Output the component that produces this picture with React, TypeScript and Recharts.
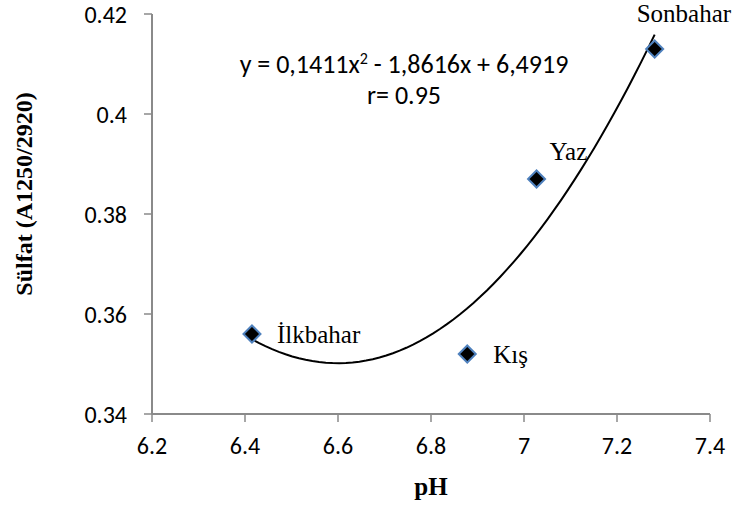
import React from "react";
import {
  ComposedChart,
  Scatter,
  XAxis,
  YAxis,
  Customized,
} from "recharts";

// pH vs Sülfat, one point per season
const SEASONS = ["İlkbahar", "Kış", "Yaz", "Sonbahar"];
const PH = [6.415, 6.878, 7.027, 7.281];
const SULFAT = [0.356, 0.352, 0.387, 0.413];

const X_TICKS = [6.2, 6.4, 6.6, 6.8, 7, 7.2, 7.4];
const Y_TICKS = [0.34, 0.36, 0.38, 0.4, 0.42];

const TREND_STEPS = 60;

const AXIS = "#8a8a8a";
const TICK_FONT = "Carlito, Lato, 'Open Sans', sans-serif";
const SERIF = "'Liberation Serif', 'Times New Roman', serif";

// where each season's name sits relative to its marker
const LABEL_OFFSET: Record<string, [number, number]> = {
  "İlkbahar": [25, 9],
  "Kış": [26, 9],
  "Yaz": [13, -19],
  "Sonbahar": [-18, -27],
};

const points = SEASONS.map((name, i) => ({ name, x: PH[i], y: SULFAT[i] }));

// least squares quadratic through the points (what the trendline is)
function fitQuadratic(xs: number[], ys: number[]) {
  const s = (f: (x: number, y: number) => number) =>
    xs.reduce((acc, x, i) => acc + f(x, ys[i]), 0);
  const m = [
    [s((x) => x ** 4), s((x) => x ** 3), s((x) => x ** 2)],
    [s((x) => x ** 3), s((x) => x ** 2), s((x) => x)],
    [s((x) => x ** 2), s((x) => x), xs.length],
  ];
  const r = [s((x, y) => x * x * y), s((x, y) => x * y), s((_, y) => y)];
  const det = (a: number[][]) =>
    a[0][0] * (a[1][1] * a[2][2] - a[1][2] * a[2][1]) -
    a[0][1] * (a[1][0] * a[2][2] - a[1][2] * a[2][0]) +
    a[0][2] * (a[1][0] * a[2][1] - a[1][1] * a[2][0]);
  const d = det(m);
  return [0, 1, 2].map((c) => det(m.map((row, i) => row.map((v, j) => (j === c ? r[i] : v)))) / d);
}

const [qa, qb, qc] = fitQuadratic(PH, SULFAT);
const xLo = Math.min(...PH);
const xHi = Math.max(...PH);
const trend = Array.from({ length: TREND_STEPS + 1 }, (_, i) => {
  const x = xLo + ((xHi - xLo) * i) / TREND_STEPS;
  return { x, y: qa * x * x + qb * x + qc };
});

function Diamond(props: any) {
  const { cx, cy, payload } = props;
  const s = 8.5;
  const [dx, dy] = LABEL_OFFSET[payload.name] ?? [14, 0];
  return (
    <g>
      <polygon
        points={`${cx},${cy - s} ${cx + s},${cy} ${cx},${cy + s} ${cx - s},${cy}`}
        fill="#000"
        stroke="#4f81bd"
        strokeWidth={2}
      />
      <text x={cx + dx} y={cy + dy} fontFamily={SERIF} fontSize={25} fill="#000">
        {payload.name}
      </text>
    </g>
  );
}

function Annotations() {
  return (
    <g>
      <text x={404} y={73} textAnchor="middle" fontFamily={TICK_FONT} fontSize={26} fill="#000">
        y = 0,1411x<tspan dy={-9} fontSize={16}>2</tspan>
        <tspan dy={9}> - 1,8616x + 6,4919</tspan>
      </text>
      <text x={404} y={104} textAnchor="middle" fontFamily={TICK_FONT} fontSize={26} fill="#000">
        r= 0.95
      </text>
      <text x={431} y={495} textAnchor="middle" fontFamily={SERIF} fontWeight="bold" fontSize={25} fill="#000">
        pH
      </text>
      <text
        x={0}
        y={0}
        transform="translate(32,194) rotate(-90)"
        textAnchor="middle"
        fontFamily={SERIF}
        fontWeight="bold"
        fontSize={24}
        fill="#000"
      >
        Sülfat (A1250/2920)
      </text>
    </g>
  );
}

export default function App() {
  const tick = { fontFamily: TICK_FONT, fontSize: 24, fill: "#000" };
  return (
    <div style={{ position: "absolute", left: 0, top: 0, width: 739, height: 528, background: "#fff" }}>
      <ComposedChart width={739} height={528} margin={{ top: 14, right: 29, bottom: 0, left: 0 }}>
        <XAxis
          type="number"
          dataKey="x"
          domain={[6.2, 7.4]}
          ticks={X_TICKS}
          height={114}
          tick={tick}
          tickSize={8}
          tickMargin={15}
          axisLine={{ stroke: AXIS, strokeWidth: 2 }}
          tickLine={{ stroke: AXIS, strokeWidth: 1.5 }}
        />
        <YAxis
          type="number"
          dataKey="y"
          domain={[0.34, 0.42]}
          ticks={Y_TICKS}
          width={152}
          tick={tick}
          tickSize={8}
          tickMargin={17}
          axisLine={{ stroke: AXIS, strokeWidth: 2 }}
          tickLine={{ stroke: AXIS, strokeWidth: 1.5 }}
        />
        <Scatter
          data={trend}
          line={{ stroke: "#000", strokeWidth: 2 }}
          lineType="joint"
          shape={() => <g />}
          isAnimationActive={false}
        />
        <Scatter data={points} shape={Diamond} isAnimationActive={false} />
        <Customized component={Annotations} />
      </ComposedChart>
    </div>
  );
}
